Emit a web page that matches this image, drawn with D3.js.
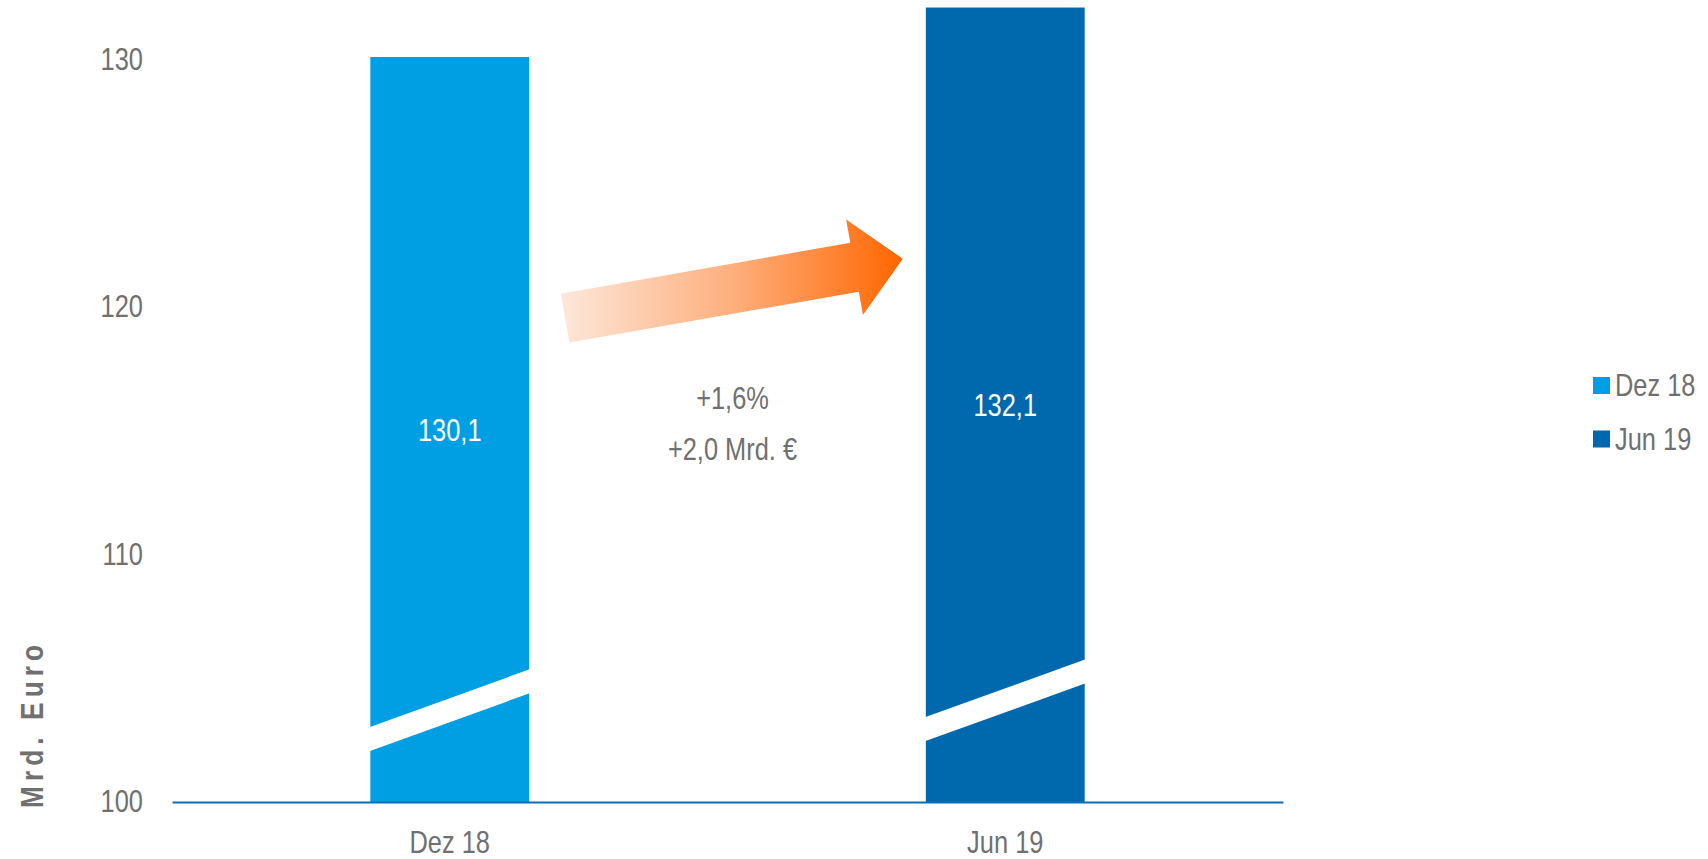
<!DOCTYPE html>
<html>
<head>
<meta charset="utf-8">
<script src="https://cdn.jsdelivr.net/npm/d3@7.9.0/dist/d3.min.js"></script>
<style>
  body { margin: 0; background: #fff; }
  text { font-family: "Liberation Sans Narrow", "Arial Narrow", "Liberation Sans", sans-serif; }
</style>
</head>
<body>
<svg id="chart"></svg>
<script>
// data
const categories = ["Dez 18", "Jun 19"];
const values = [130.1, 132.1];
const valueLabels = ["130,1", "132,1"];
const colors = ["#009fe3", "#0069ad"];
const yTicks = [100, 110, 120, 130];
// axis-break band (value at bar's left / right edge, lower side)
const breakLeft = [102.05, 102.45];
const breakRight = [104.4, 104.8];
const breakGap = 0.97;
const changeLines = ["+1,6%", "+2,0 Mrd. €"];
const arrowFrom = 119.55, arrowTo = 121.95;

const width = 1708, height = 859;
const svg = d3.select("#chart").attr("width", width).attr("height", height);

const x = d3.scaleBand()
  .domain(categories)
  .range([172, 1283])
  .paddingInner(0.714)
  .paddingOuter(0.357);

const y = d3.scaleLinear()
  .domain([100, 130])
  .range([802, 59.5]);

const grey = "#707070";
const fs = 31;
const squeeze = 0.82; // no narrow font installed, so squeeze text horizontally

function narrow(sel) {
  sel.each(function() {
    const t = d3.select(this);
    const tx = +t.attr("x") || 0;
    t.attr("x", 0).attr("transform", `translate(${tx},0) scale(${squeeze},1)`);
  });
}

// bars
svg.selectAll("rect.bar")
  .data(categories)
  .enter()
  .append("rect")
  .attr("class", "bar")
  .attr("x", d => x(d))
  .attr("width", x.bandwidth())
  .attr("y", (d, i) => y(values[i]))
  .attr("height", (d, i) => y(100) - y(values[i]))
  .attr("fill", (d, i) => colors[i]);

// white break band across each bar
svg.selectAll("path.brk")
  .data(categories)
  .enter()
  .append("path")
  .attr("class", "brk")
  .attr("fill", "#fff")
  .attr("d", (d, i) => {
    const x0 = x(d) - 1, x1 = x(d) + x.bandwidth() + 1;
    return `M${x0},${y(breakLeft[i])} L${x1},${y(breakRight[i])}` +
      ` L${x1},${y(breakRight[i] + breakGap)} L${x0},${y(breakLeft[i] + breakGap)} Z`;
  });

// value labels in the middle of the bars
svg.selectAll("text.val")
  .data(categories)
  .enter()
  .append("text")
  .attr("class", "val")
  .attr("x", d => x(d) + x.bandwidth() / 2)
  .attr("y", (d, i) => (y(values[i]) + y(100)) / 2)
  .attr("dy", "0.36em")
  .attr("text-anchor", "middle")
  .attr("fill", "#fff")
  .attr("font-size", fs)
  .text((d, i) => valueLabels[i])
  .call(narrow);

// y axis (labels only)
const yAxis = svg.append("g")
  .attr("transform", `translate(${x.range()[0]},0)`)
  .call(d3.axisLeft(y).tickValues(yTicks).tickSize(0).tickPadding(29));
yAxis.select(".domain").remove();
yAxis.selectAll("text")
  .attr("font-size", fs).attr("fill", grey).attr("font-family", null)
  .call(narrow);

// x axis
const xAxis = svg.append("g")
  .attr("transform", `translate(0,${y(100)})`)
  .call(d3.axisBottom(x).tickSize(0).tickSizeOuter(0).tickPadding(29));
xAxis.select(".domain").attr("stroke", "#0a6fb8").attr("stroke-width", 2);
xAxis.selectAll("text")
  .attr("font-size", fs).attr("fill", grey).attr("font-family", null)
  .call(narrow);

// y title
svg.append("text")
  .attr("transform", `translate(43,808) rotate(-90) scale(${squeeze},1)`)
  .attr("font-size", 32)
  .attr("font-weight", "bold")
  .attr("letter-spacing", 6.2)
  .attr("fill", grey)
  .text("Mrd. Euro");

// arrow between the bars
const defs = svg.append("defs");
const tailX = x(categories[0]) + x.bandwidth() + 36;
const tipX = x(categories[1]) - 23;
const grad = defs.append("linearGradient")
  .attr("id", "arrowGrad")
  .attr("gradientUnits", "userSpaceOnUse")
  .attr("x1", tailX).attr("y1", 0)
  .attr("x2", tipX).attr("y2", 0);
grad.append("stop").attr("offset", 0).attr("stop-color", "#fde6d8");
grad.append("stop").attr("offset", 0.5).attr("stop-color", "#fdae7c");
grad.append("stop").attr("offset", 1).attr("stop-color", "#ff6600");

{
  const ax = tailX, ay = y(arrowFrom), bx = tipX, by = y(arrowTo);
  const len = Math.hypot(bx - ax, by - ay);
  const ux = (bx - ax) / len, uy = (by - ay) / len;
  const nx = -uy, ny = ux;
  const shaft = 49.6 / 2, head = 97 / 2, headLen = 49;
  const hx = bx - ux * headLen, hy = by - uy * headLen;
  const pts = [
    [ax + nx * shaft, ay + ny * shaft],
    [hx + nx * shaft, hy + ny * shaft],
    [hx + nx * head, hy + ny * head],
    [bx, by],
    [hx - nx * head, hy - ny * head],
    [hx - nx * shaft, hy - ny * shaft],
    [ax - nx * shaft, ay - ny * shaft]
  ];
  svg.append("path")
    .attr("d", d3.line()(pts) + "Z")
    .attr("fill", "url(#arrowGrad)");
}

// change annotation
const midX = (x(categories[0]) + x.bandwidth() + x(categories[1])) / 2 + 5;
svg.selectAll("text.chg")
  .data(changeLines)
  .enter()
  .append("text")
  .attr("class", "chg")
  .attr("x", midX)
  .attr("y", (d, i) => y(115.88) + i * 51)
  .attr("text-anchor", "middle")
  .attr("font-size", fs)
  .attr("fill", grey)
  .text(d => d)
  .call(narrow);

// legend
const legend = svg.append("g").attr("transform", "translate(1593,377)");
const item = legend.selectAll("g")
  .data(categories)
  .enter()
  .append("g")
  .attr("transform", (d, i) => `translate(0,${i * 53.5})`);
item.append("rect")
  .attr("width", 17).attr("height", 17)
  .attr("fill", (d, i) => colors[i]);
item.append("text")
  .attr("x", 22)
  .attr("y", 19)
  .attr("font-size", fs)
  .attr("fill", grey)
  .text(d => d)
  .call(narrow);
</script>
</body>
</html>
